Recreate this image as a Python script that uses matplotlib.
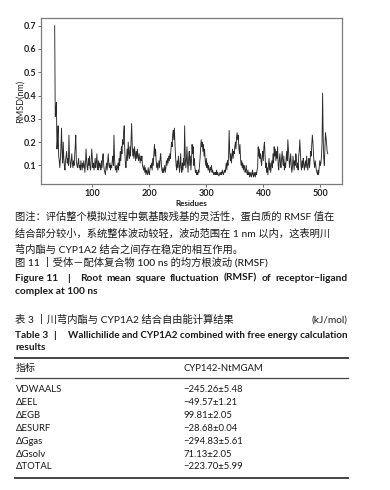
import numpy as np
import matplotlib
matplotlib.use('Agg')
import matplotlib.pyplot as plt
from matplotlib.lines import Line2D

# RMSF per residue, residues start at 34
rmsf = [
    0.70, 0.31, 0.33, 0.37, 0.17, 0.21, 0.27, 0.14, 0.12, 0.09,
    0.13, 0.18, 0.26, 0.15, 0.11, 0.20, 0.13, 0.10, 0.08, 0.12,
    0.14, 0.16, 0.11, 0.13, 0.10, 0.23, 0.14, 0.11, 0.09, 0.12,
    0.15, 0.11, 0.09, 0.12, 0.10, 0.14, 0.18, 0.23, 0.12, 0.10,
    0.09, 0.11, 0.13, 0.09, 0.10, 0.08, 0.12, 0.10, 0.08, 0.11,
    0.09, 0.12, 0.10, 0.07, 0.11, 0.17, 0.12, 0.09, 0.08, 0.13,
    0.10, 0.14, 0.09, 0.08, 0.12, 0.17, 0.13, 0.09, 0.11, 0.08,
    0.10, 0.13, 0.09, 0.11, 0.15, 0.10, 0.08, 0.12, 0.09, 0.11,
    0.10, 0.08, 0.12, 0.09, 0.13, 0.15, 0.10, 0.08, 0.07, 0.06,
    0.09, 0.11, 0.08, 0.12, 0.15, 0.10, 0.09, 0.11, 0.08, 0.10,
    0.09, 0.12, 0.14, 0.10, 0.23, 0.13, 0.09, 0.08, 0.10, 0.07,
    0.09, 0.11, 0.08, 0.13, 0.10, 0.16, 0.12, 0.18, 0.15, 0.21,
    0.19, 0.24, 0.27, 0.16, 0.11, 0.09, 0.13, 0.17, 0.12, 0.20,
    0.15, 0.13, 0.18, 0.14, 0.21, 0.28, 0.19, 0.14, 0.17, 0.13,
    0.18, 0.15, 0.12, 0.16, 0.13, 0.17, 0.14, 0.12, 0.15, 0.13,
    0.11, 0.14, 0.12, 0.14, 0.10, 0.09, 0.08, 0.10, 0.07, 0.09,
    0.06, 0.08, 0.07, 0.06, 0.09, 0.07, 0.06, 0.08, 0.10, 0.09,
    0.11, 0.08, 0.13, 0.10, 0.15, 0.19, 0.14, 0.17, 0.12, 0.09,
    0.11, 0.08, 0.10, 0.12, 0.09, 0.13, 0.15, 0.11, 0.08, 0.07,
    0.09, 0.07, 0.08, 0.10, 0.07, 0.09, 0.12, 0.10, 0.13, 0.11,
    0.14, 0.12, 0.15, 0.13, 0.17, 0.20, 0.18, 0.23, 0.25, 0.21,
    0.26, 0.19, 0.14, 0.10, 0.08, 0.12, 0.09, 0.14, 0.11, 0.07,
    0.10, 0.15, 0.09, 0.07, 0.11, 0.08, 0.13, 0.10, 0.27, 0.14,
    0.09, 0.12, 0.18, 0.11, 0.07, 0.13, 0.16, 0.10, 0.14, 0.08,
    0.12, 0.19, 0.15, 0.18, 0.10, 0.13, 0.09, 0.07, 0.08, 0.06,
    0.07, 0.06, 0.08, 0.07, 0.10, 0.13, 0.17, 0.21, 0.18, 0.20,
    0.16, 0.19, 0.14, 0.17, 0.12, 0.10, 0.13, 0.09, 0.11, 0.08,
    0.10, 0.08, 0.07, 0.09, 0.08, 0.10, 0.07, 0.08, 0.07, 0.06,
    0.07, 0.06, 0.07, 0.06, 0.08, 0.06, 0.07, 0.06, 0.055, 0.06,
    0.07, 0.06, 0.07, 0.06, 0.08, 0.07, 0.06, 0.07, 0.08, 0.07,
    0.09, 0.11, 0.08, 0.12, 0.10, 0.14, 0.25, 0.16, 0.12, 0.15,
    0.11, 0.14, 0.17, 0.13, 0.16, 0.15, 0.18, 0.20, 0.17, 0.22,
    0.24, 0.21, 0.23, 0.18, 0.15, 0.19, 0.13, 0.10, 0.12, 0.09,
    0.11, 0.08, 0.10, 0.09, 0.07, 0.08, 0.10, 0.07, 0.06, 0.08,
    0.06, 0.07, 0.05, 0.06, 0.07, 0.05, 0.06, 0.08, 0.06, 0.05,
    0.07, 0.06, 0.05, 0.07, 0.06, 0.08, 0.09, 0.18, 0.14, 0.17,
    0.13, 0.15, 0.12, 0.10, 0.14, 0.16, 0.12, 0.18, 0.20, 0.14,
    0.09, 0.11, 0.07, 0.09, 0.06, 0.10, 0.13, 0.08, 0.11, 0.07,
    0.10, 0.12, 0.09, 0.15, 0.11, 0.18, 0.14, 0.17, 0.12, 0.16,
    0.13, 0.18, 0.10, 0.08, 0.12, 0.15, 0.11, 0.09, 0.13, 0.16,
    0.12, 0.10, 0.14, 0.08, 0.11, 0.09, 0.13, 0.16, 0.12, 0.21,
    0.17, 0.13, 0.09, 0.12, 0.15, 0.10, 0.07, 0.09, 0.14, 0.11,
    0.08, 0.12, 0.10, 0.15, 0.13, 0.09, 0.11, 0.08, 0.14, 0.16,
    0.21, 0.15, 0.10, 0.08, 0.12, 0.09, 0.13, 0.11, 0.08, 0.10,
    0.12, 0.09, 0.14, 0.10, 0.08, 0.11, 0.13, 0.09, 0.12, 0.16,
    0.14, 0.19, 0.23, 0.20, 0.15, 0.11, 0.09, 0.12, 0.10, 0.08,
    0.07, 0.06, 0.08, 0.06, 0.09, 0.12, 0.10, 0.11, 0.14, 0.20,
    0.41, 0.22, 0.13, 0.10, 0.17, 0.24, 0.22, 0.19, 0.16, 0.15,
]
first_residue = 34
residues = np.arange(first_residue, first_residue + len(rmsf))

yticks = [0.1, 0.2, 0.3, 0.4, 0.5, 0.6, 0.7]
xticks = [100, 200, 300, 400, 500]

# table 3
row_labels = ['VDWAALS', '\u0394EEL', '\u0394EGB', '\u0394ESURF', '\u0394Ggas', '\u0394Gsolv', '\u0394TOTAL']
row_values = ['\u2212245.26\u00b15.48', '\u221249.57\u00b11.21', '99.81\u00b12.05', '\u221228.68\u00b10.04',
              '\u2212294.83\u00b15.61', '71.13\u00b12.05', '\u2212223.70\u00b15.99']

W, H = 390, 490
CJK = ['Lato', 'Noto Sans CJK SC', 'DejaVu Sans']
ink = '#1a1a1a'

fig = plt.figure(figsize=(W / 100, H / 100), dpi=100)

def fx(x):
    return x / W

def fy(y):
    return 1 - y / H

ax = fig.add_axes([fx(41), fy(184), fx(342) - fx(41), fy(18) - fy(184)])
ax.plot(residues, rmsf, color='#2a2a2a', lw=0.65)
ax.set_xlim(10, 538)
ax.set_ylim(0.02, 0.733)
ax.set_xticks(xticks)
ax.set_yticks(yticks)
ax.set_yticklabels(['%.1f' % v for v in yticks])
for lab in ax.get_xticklabels() + ax.get_yticklabels():
    lab.set_fontsize(6.5)
    lab.set_fontweight('bold')
    lab.set_color('#222222')
    lab.set_family('Lato')
ax.tick_params(length=2, width=0.6, color='#555555', pad=1.5)
for s in ax.spines.values():
    s.set_color('#7a7a7a')
    s.set_linewidth(0.9)
ax.set_ylabel('RMSD(nm)', fontsize=6.5, family='Lato', labelpad=-1, color='#222222')

fig.text(fx(191), fy(203), 'Residues', fontsize=5.8, weight='bold', family='Lato',
         ha='center', va='center', color=ink)

# caption text
cap = [
    '图注：评估整个模拟过程中氨基酸残基的灵活性，蛋白质的 RMSF 值在',
    '结合部分较小，系统整体波动较轻，波动范围在 1 nm 以内，这表明川',
    '芎内酯与 CYP1A2 结合之间存在稳定的相互作用。',
]
for i, line in enumerate(cap):
    fig.text(fx(15), fy(217 + i * 16.5), line, fontsize=7.4, family=CJK,
             ha='left', va='center', color=ink)

fig.text(fx(15), fy(262), '图 11 丨受体－配体复合物 100 ns 的均方根波动 (RMSF)', fontsize=7.4,
         family=CJK, ha='left', va='center', color=ink, weight='medium')

fig.text(fx(15), fy(278), 'Figure 11', fontsize=7.3, family='Lato', weight='bold',
         ha='left', va='center', color=ink)
fig.text(fx(69), fy(278), '|', fontsize=7.3, family='Lato', weight='bold',
         ha='center', va='center', color=ink)

# justified line: spread the words between x=80 and x=347
words = 'Root mean square fluctuation (RMSF) of receptor\u2212ligand'.split()
renderer = fig.canvas.get_renderer()
items = []
for w in words:
    t = fig.text(0, fy(278), w, fontsize=7.3, family='Lato', weight='bold',
                 ha='left', va='center', color=ink)
    items.append((t, t.get_window_extent(renderer).width))
total = sum(wd for _, wd in items)
gap = (347 - 80 - total) / (len(items) - 1)
x = 80
for t, wd in items:
    t.set_x(fx(x))
    x += wd + gap

fig.text(fx(15), fy(291), 'complex at 100 ns', fontsize=7.3, family='Lato', weight='bold',
         ha='left', va='center', color=ink)

fig.text(fx(15), fy(320), '表 3 丨川芎内酯与 CYP1A2 结合自由能计算结果', fontsize=7.4,
         family=CJK, ha='left', va='center', color=ink)
fig.text(fx(347), fy(320), '(kJ/mol)', fontsize=7.3, family=CJK,
         ha='right', va='center', color=ink)

fig.text(fx(15), fy(335), 'Table 3', fontsize=7.3, family='Lato', weight='bold',
         ha='left', va='center', color=ink)
fig.text(fx(55), fy(335), '|', fontsize=7.3, family='Lato', weight='bold',
         ha='center', va='center', color=ink)
fig.text(fx(347), fy(335), 'Wallichilide and CYP1A2 combined with free energy calculation',
         fontsize=7.15, family='Lato', weight='bold', ha='right', va='center', color=ink)
fig.text(fx(15), fy(347.5), 'results', fontsize=7.3, family='Lato', weight='bold',
         ha='left', va='center', color=ink)

# table rules
for y, lw in [(357.5, 1.4), (378, 0.9), (477.5, 1.4)]:
    fig.add_artist(Line2D([fx(15), fx(348)], [fy(y), fy(y)], color='#444444', lw=lw))

fig.text(fx(16), fy(368), '指标', fontsize=7.2, family=CJK, ha='left', va='center', color=ink)
fig.text(fx(183), fy(368), 'CYP142-NtMGAM', fontsize=6.8, family='Lato',
         ha='left', va='center', color=ink)

for i, (lab, val) in enumerate(zip(row_labels, row_values)):
    y = 389.5 + i * 12.9
    fig.text(fx(16), fy(y), lab, fontsize=6.8, family='Lato', ha='left', va='center', color=ink)
    fig.text(fx(183), fy(y), val, fontsize=6.8, family='Lato', ha='left', va='center', color=ink)

plt.savefig('out.png', dpi=100)
